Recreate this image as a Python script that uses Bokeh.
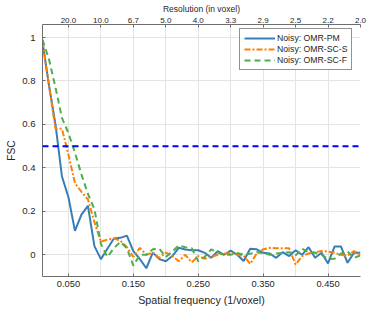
from bokeh.plotting import figure
from bokeh.models import Range1d, LinearAxis, FixedTicker, Span, Legend, LegendItem
from bokeh.embed import file_html
from bokeh.resources import INLINE

# ---------------- data ----------------
freq = [0.01, 0.02, 0.03, 0.04, 0.05, 0.06, 0.07, 0.08, 0.09, 0.10,
        0.11, 0.12, 0.13, 0.14, 0.15, 0.16, 0.17, 0.18, 0.19, 0.20,
        0.21, 0.22, 0.23, 0.24, 0.25, 0.26, 0.27, 0.28, 0.29, 0.30,
        0.31, 0.32, 0.33, 0.34, 0.35, 0.36, 0.37, 0.38, 0.39, 0.40,
        0.41, 0.42, 0.43, 0.44, 0.45, 0.46, 0.47, 0.48, 0.49, 0.50]

fsc_pm = [0.98, 0.78, 0.60, 0.36, 0.265, 0.11, 0.185, 0.225, 0.04, -0.02,
          0.028, 0.075, 0.078, 0.088, 0.017, -0.02, -0.062, 0.01, -0.02, -0.03,
          -0.006, 0.032, 0.024, 0.021, 0.021, 0.009, -0.014, 0.017, 0.0, 0.019,
          0.0, -0.029, 0.028, 0.025, 0.009, 0.006, -0.014, 0.012, -0.006, 0.021,
          0.0, 0.035, -0.014, 0.009, -0.04, 0.038, 0.038, -0.037, 0.009, 0.009]

fsc_scs = [0.98, 0.78, 0.58, 0.58, 0.46, 0.33, 0.29, 0.255, 0.15, 0.06,
           0.07, 0.075, 0.065, 0.035, -0.01, 0.032, 0.0, 0.01, -0.015, 0.01,
           -0.006, -0.03, 0.0, -0.035, -0.006, -0.018, -0.01, 0.0, 0.005, 0.009,
           0.0, -0.005, -0.042, 0.005, 0.025, 0.032, 0.03, 0.03, 0.03, -0.045,
           -0.006, 0.006, 0.012, 0.017, 0.015, 0.009, 0.0, -0.005, 0.017, 0.0]

fsc_scf = [0.99, 0.90, 0.77, 0.63, 0.56, 0.47, 0.37, 0.28, 0.21, 0.05,
           -0.01, 0.03, 0.06, 0.03, -0.05, 0.0, 0.0, 0.025, 0.028, -0.01,
           0.015, 0.043, 0.035, 0.03, -0.03, -0.01, 0.025, 0.01, 0.0, 0.0,
           0.008, 0.0, 0.005, 0.012, 0.008, 0.0, 0.006, 0.008, 0.012, -0.003,
           0.028, 0.012, 0.009, 0.0, -0.02, -0.018, 0.006, 0.015, -0.014, -0.003]

series_labels = ["Noisy: OMR-PM", "Noisy: OMR-SC-S", "Noisy: OMR-SC-F"]
threshold = 0.5

x_ticks = [0.05, 0.15, 0.25, 0.35, 0.45]
x_labels = ["0.050", "0.150", "0.250", "0.350", "0.450"]
res_ticks = [0.05, 0.1, 0.15, 0.2, 0.25, 0.3, 0.35, 0.4, 0.45, 0.5]
res_labels = ["20.0", "10.0", "6.7", "5.0", "4.0", "3.3", "2.9", "2.5", "2.2", "2.0"]
y_ticks = [0, 0.2, 0.4, 0.6, 0.8, 1]
y_labels = ["0", "0.2", "0.4", "0.6", "0.8", "1"]

# ---------------- style ----------------
FONT = "Liberation Sans"
TXT = "#262626"
AXC = "#6e6e6e"
GRID = "#e4e4e4"
C_PM, C_SCS, C_SCF = "#377eb8", "#ff7f00", "#4daf4a"

p = figure(width=372, height=308, output_backend="svg", toolbar_location=None,
           x_range=Range1d(0.01, 0.5), y_range=Range1d(-0.1, 1.06),
           min_border_left=42, min_border_right=12, min_border_top=24,
           min_border_bottom=31,
           x_axis_label="Spatial frequency (1/voxel)", y_axis_label="FSC")
p.outline_line_color = None
p.background_fill_color = "white"
p.border_fill_color = "white"


def style_axis(ax, tick_size, label_size):
    ax.axis_line_color = AXC
    ax.axis_line_width = 1
    ax.major_tick_line_color = AXC
    ax.minor_tick_line_color = None
    ax.major_tick_in = 3
    ax.major_tick_out = 0
    ax.major_label_text_font = FONT
    ax.major_label_text_font_size = tick_size
    ax.major_label_text_color = TXT
    ax.axis_label_text_font = FONT
    ax.axis_label_text_font_size = label_size
    ax.axis_label_text_font_style = "normal"
    ax.axis_label_text_color = TXT


xa = p.xaxis[0]
style_axis(xa, "9.3px", "10.7px")
xa.ticker = FixedTicker(ticks=x_ticks)
xa.major_label_overrides = dict(zip(x_ticks, x_labels))
xa.major_label_standoff = 4
xa.axis_label_standoff = 4

ya = p.yaxis[0]
style_axis(ya, "9.6px", "10.2px")
ya.ticker = FixedTicker(ticks=y_ticks)
ya.major_label_overrides = dict(zip(y_ticks, y_labels))
ya.major_label_standoff = 7
ya.axis_label_standoff = 2

top = LinearAxis(axis_label="Resolution (in voxel)")
style_axis(top, "8px", "8.5px")
top.ticker = FixedTicker(ticks=res_ticks)
top.major_label_overrides = dict(zip(res_ticks, res_labels))
top.major_label_standoff = 2
top.axis_label_standoff = 1
p.add_layout(top, "above")

p.xgrid.ticker = FixedTicker(ticks=res_ticks)
p.ygrid.ticker = FixedTicker(ticks=y_ticks)
for g in (p.xgrid[0], p.ygrid[0]):
    g.grid_line_color = GRID
    g.grid_line_width = 1

r1 = p.line(freq, fsc_pm, line_color=C_PM, line_width=2)
r2 = p.line(freq, fsc_scs, line_color=C_SCS, line_width=2, line_dash="6 2 2 2")
r3 = p.line(freq, fsc_scf, line_color=C_SCF, line_width=2, line_dash="6 4")

p.add_layout(Span(location=threshold, dimension="width", line_color="#0000ff",
                  line_width=2, line_dash="6 4"))

legend = Legend(items=[LegendItem(label=series_labels[0], renderers=[r1]),
                       LegendItem(label=series_labels[1], renderers=[r2]),
                       LegendItem(label=series_labels[2], renderers=[r3])],
                location=(197, 206), glyph_width=31, glyph_height=10,
                label_height=10, label_standoff=2, padding=4, spacing=1,
                margin=0, label_text_font=FONT, label_text_font_size="8.7px",
                label_text_color=TXT, border_line_color="#262626",
                border_line_width=1, background_fill_color="white",
                background_fill_alpha=1)
p.add_layout(legend)

open("out.html", "w").write(file_html(p, INLINE))
